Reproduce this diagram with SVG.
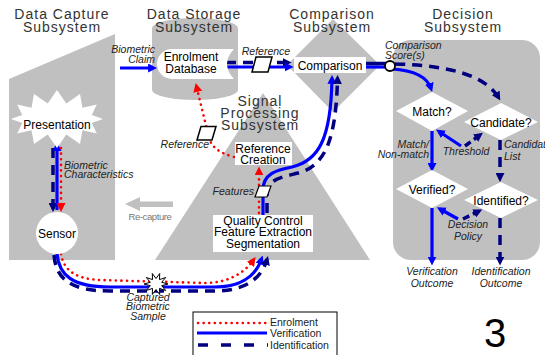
<svg xmlns="http://www.w3.org/2000/svg" width="545" height="355" viewBox="0 0 545 355">
<defs>
<style>
.bg{fill:#c0c0c0}
.title{font-family:"Liberation Sans",Arial,sans-serif;font-size:14px;letter-spacing:1px;fill:#333;text-anchor:middle}
.node{font-family:"Liberation Sans",Arial,sans-serif;font-size:12px;fill:#000;text-anchor:middle}
.lbl{font-family:"Liberation Sans",Arial,sans-serif;font-size:10.5px;font-style:italic;fill:#222}
.leg{font-family:"Liberation Sans",Arial,sans-serif;font-size:10.5px;fill:#222}
.wbox{fill:#fff}
.doc{fill:#fff;stroke:#000;stroke-width:1.5}
.red{fill:none;stroke:#ff0000;stroke-width:2.6;stroke-dasharray:0.1 5.5;stroke-linecap:round}
.blue{fill:none;stroke:#0000ff;stroke-width:3.2}
.navy{fill:none;stroke:#000080;stroke-width:3.5;stroke-dasharray:10 7}
.navys{fill:none;stroke:#000080;stroke-width:3.5}
</style>
<marker id="ab" viewBox="0 0 10 10" refX="6" refY="5" markerWidth="9" markerHeight="9" markerUnits="userSpaceOnUse" orient="auto"><path d="M0,0 L10,5 L0,10 z" fill="#0000ff"/></marker>
<marker id="an" viewBox="0 0 10 10" refX="6" refY="5" markerWidth="9" markerHeight="9" markerUnits="userSpaceOnUse" orient="auto"><path d="M0,0 L10,5 L0,10 z" fill="#000080"/></marker>
<marker id="ar" viewBox="0 0 10 10" refX="6" refY="5" markerWidth="9" markerHeight="9" markerUnits="userSpaceOnUse" orient="auto"><path d="M0,0 L10,5 L0,10 z" fill="#ff0000"/></marker>
</defs>

<!-- subsystem backgrounds -->
<g id="data-capture-subsystem">
<polygon class="bg" points="9,79 115,34 115,260 9,260"/>
</g>
<g id="data-storage-subsystem">
<path class="bg" d="M152 28 A43 10 0 0 1 238 28 L238 90 A43 10 0 0 1 152 90 Z"/>
</g>
<g id="comparison-subsystem">
<polygon class="bg" points="287,65 333,19 380,65 333,112"/>
</g>
<g id="signal-processing-subsystem">
<polygon class="bg" points="263,93 370,260 155,260"/>
</g>
<g id="decision-subsystem">
<rect class="bg" x="393" y="40" width="147" height="220" rx="18"/>
</g>

<!-- titles -->
<g id="titles">
<text class="title" x="62" y="19">Data Capture</text>
<text class="title" x="62" y="32">Subsystem</text>
<text class="title" x="194" y="19">Data Storage</text>
<text class="title" x="194" y="32">Subsystem</text>
<text class="title" x="332" y="19">Comparison</text>
<text class="title" x="332" y="32">Subsystem</text>
<text class="title" x="463" y="19">Decision</text>
<text class="title" x="463" y="32">Subsystem</text>
<text class="title" x="260" y="106">Signal</text>
<text class="title" x="260" y="118">Processing</text>
<text class="title" x="260" y="130">Subsystem</text>
</g>

<!-- re-capture -->
<g id="re-capture">
<polygon fill="#c0c0c0" points="125,204 140,197 140,201.5 173,201.5 173,207 140,207 140,211"/>
<text x="150" y="220" font-family="Liberation Sans, Arial, sans-serif" font-size="9.5" letter-spacing="-0.4" fill="#777" text-anchor="middle">Re-capture</text>
</g>

<!-- connectors -->
<g id="connectors">
<!-- biometric claim -->
<path class="blue" d="M120 68 L153.5 68" marker-end="url(#ab)"/>
<!-- reference db to comparison -->
<path class="navy" d="M226 62.5 L288 62.5" marker-end="url(#an)"/>
<path class="blue" d="M224 67 L290 67" marker-end="url(#ab)"/>
<!-- biometric characteristics -->
<path class="navy" d="M53 148 L53 208.5" marker-end="url(#an)"/>
<path class="blue" d="M57 210 L57 145.5" marker-end="url(#ab)"/>
<path class="red" d="M61 148 L61 208.5" marker-end="url(#ar)"/>
<!-- sensor to quality control -->
<path class="red" d="M61 254 C64 272 78 279 100 280 L205 283 C225 283 243 275 253.5 260" marker-end="url(#ar)"/>
<path class="blue" d="M57 254 C59 275 72 287 110 287 L215 287 C238 287 255 278 261.5 259" marker-end="url(#ab)"/>
<path class="navy" d="M54 255 C56 280 72 291 110 291 L215 291 C243 291 261 280 267 259.5" marker-end="url(#an)"/>
<!-- QC to reference creation -->
<path class="red" d="M259 213 L259 170" marker-end="url(#ar)"/>
<!-- QC to comparison -->
<path class="blue" d="M263 215 L263 190 C263 174 276 170 292 167 C318 161 331 140 332 78.5" marker-end="url(#ab)"/>
<path class="navy" d="M267 213 L267 192 C268 179 283 177 298 173 C325 166 336 140 337.5 78.5" marker-end="url(#an)"/>
<!-- reference creation to db -->
<path class="red" d="M234 157 C220 153 212 148 209 138 L196.5 86.5" marker-end="url(#ar)"/>
<!-- comparison to score -->
<path class="navys" d="M366 63.5 L386 63.5"/>
<path class="blue" d="M366 67 L386 67"/>
<path class="blue" d="M392 69 Q425 71 431 88.5" marker-end="url(#ab)"/>
<path class="navy" d="M395 64 Q480 66 498.5 97.5" marker-end="url(#an)"/>
<!-- decision internal -->
<path class="blue" d="M432 131 L432 168.5" marker-end="url(#ab)"/>
<path class="blue" d="M461 146 L439 131.5" marker-end="url(#ab)"/>
<path class="navy" d="M465 146 L480 135" marker-end="url(#an)" style="stroke-dasharray:7 4"/>
<path class="navy" d="M500 140 L500 178.5" marker-end="url(#an)"/>
<path class="blue" d="M432 208 L432 262" marker-end="url(#ab)"/>
<path class="navy" d="M500 218 L500 262" marker-end="url(#an)"/>
<path class="blue" d="M458 219 L440 209" marker-end="url(#ab)"/>
<path class="navy" d="M463 219 L479 211" marker-end="url(#an)" style="stroke-dasharray:7 4"/>
</g>

<!-- documents on connectors -->
<g id="reference-doc-1"><polygon class="doc" points="256,57 272,57 268,72 252,72"/></g>
<g id="reference-doc-2"><polygon class="doc" points="201,126.5 216,126.5 212,140 197,140"/></g>
<g id="features-doc"><polygon class="doc" points="259,186 271,186 267,197 255,197" style="stroke-width:1.2"/></g>
<g id="score-point"><circle cx="390" cy="66" r="5" fill="#fff" stroke="#000" stroke-width="1.8"/></g>
<g id="captured-sample">
<polygon fill="#fff" stroke="#000" stroke-width="1" points="168,284 161.7,285.7 165.7,290.5 159.5,288.4 159.7,294.5 156,289.5 152.3,294.5 152.5,288.4 146.3,290.5 150.3,285.7 144,284 150.3,282.3 146.3,277.5 152.5,279.6 152.3,273.5 156,278.5 159.7,273.5 159.5,279.6 165.7,277.5 161.7,282.3"/>
</g>

<!-- nodes -->
<g id="presentation">
<polygon fill="#fff" points="103,119 91.8,123.1 96.8,133.5 82.5,130.3 80,144.1 66.3,134.5 57,148 47.7,134.5 34,144.1 31.5,130.3 17.2,133.5 22.2,123.1 11,119 22.2,114.9 17.2,104.5 31.5,107.7 34,93.9 47.7,103.5 57,90 66.3,103.5 80,93.9 82.5,107.7 96.8,104.5 91.8,114.9"/>
<text class="node" x="57" y="129">Presentation</text>
</g>
<g id="sensor">
<circle cx="57" cy="233" r="21" fill="#fff"/>
<text class="node" x="57" y="237.5">Sensor</text>
</g>
<g id="enrolment-database">
<path class="wbox" d="M172 49 H234 Q220 64 234 79 H172 A15 15 0 0 1 172 49 Z"/>
<text class="node" x="191" y="61">Enrolment</text>
<text class="node" x="191" y="73">Database</text>
</g>
<g id="comparison">
<rect class="wbox" x="294" y="57" width="72" height="16"/>
<text class="node" x="330" y="69.5">Comparison</text>
</g>
<g id="reference-creation">
<rect class="wbox" x="235" y="142" width="57" height="23"/>
<text class="node" x="263" y="153">Reference</text>
<text class="node" x="263" y="164">Creation</text>
</g>
<g id="quality-control">
<rect class="wbox" x="213" y="215" width="100" height="37"/>
<text class="node" x="263" y="224.5">Quality Control</text>
<text class="node" x="263" y="236">Feature Extraction</text>
<text class="node" x="263" y="247.5">Segmentation</text>
</g>
<g id="match">
<polygon fill="#fff" points="396,111 432,92 468,111 432,131"/>
<text class="node" x="432" y="115.5">Match?</text>
</g>
<g id="candidate">
<polygon fill="#fff" points="464,122 501,103 538,122 501,140"/>
<text class="node" x="501" y="126.5">Candidate?</text>
</g>
<g id="verified">
<polygon fill="#fff" points="396,189 432,170 468,189 432,208"/>
<text class="node" x="432" y="193.5">Verified?</text>
</g>
<g id="identified">
<polygon fill="#fff" points="464,200 501,182 538,200 501,218"/>
<text class="node" x="501" y="204.5">Identified?</text>
</g>

<!-- labels -->
<g id="labels">
<text class="lbl" x="155" y="53" text-anchor="end">Biometric</text>
<text class="lbl" x="155" y="62.5" text-anchor="end">Claim</text>
<text class="lbl" x="266" y="55" text-anchor="middle">Reference</text>
<text class="lbl" x="209" y="148" text-anchor="end">Reference</text>
<text class="lbl" x="254" y="195" text-anchor="end">Features</text>
<text class="lbl" x="64" y="169">Biometric</text>
<text class="lbl" x="64" y="178">Characteristics</text>
<text class="lbl" x="148" y="300.5" text-anchor="middle">Captured</text>
<text class="lbl" x="148" y="310" text-anchor="middle">Biometric</text>
<text class="lbl" x="148" y="319.5" text-anchor="middle">Sample</text>
<text class="lbl" x="385" y="49">Comparison</text>
<text class="lbl" x="385" y="59">Score(s)</text>
<text class="lbl" x="429" y="148" text-anchor="end">Match/</text>
<text class="lbl" x="429" y="158" text-anchor="end">Non-match</text>
<text class="lbl" x="466" y="155" text-anchor="middle">Threshold</text>
<text class="lbl" x="504" y="148">Candidate</text>
<text class="lbl" x="504" y="160">List</text>
<text class="lbl" x="468" y="228" text-anchor="middle">Decision</text>
<text class="lbl" x="468" y="240" text-anchor="middle">Policy</text>
<text class="lbl" x="432" y="275" text-anchor="middle">Verification</text>
<text class="lbl" x="432" y="287" text-anchor="middle">Outcome</text>
<text class="lbl" x="501" y="275" text-anchor="middle">Identification</text>
<text class="lbl" x="501" y="287" text-anchor="middle">Outcome</text>
</g>

<!-- legend -->
<g id="legend">
<rect x="193" y="312" width="144" height="50" fill="#fff" stroke="#000" stroke-width="1"/>
<path class="red" d="M198 323 L266 323"/>
<path class="blue" d="M197 333 L267 333"/>
<path class="navy" d="M198 345 L268 345" style="stroke-dasharray:10 13"/>
<text class="leg" x="270" y="326">Enrolment</text>
<text class="leg" x="270" y="337">Verification</text>
<text class="leg" x="270" y="348.5">Identification</text>
</g>

<g id="page-number">
<text x="495" y="347" font-family="Liberation Sans, Arial, sans-serif" font-size="40" fill="#000" text-anchor="middle">3</text>
</g>
</svg>
